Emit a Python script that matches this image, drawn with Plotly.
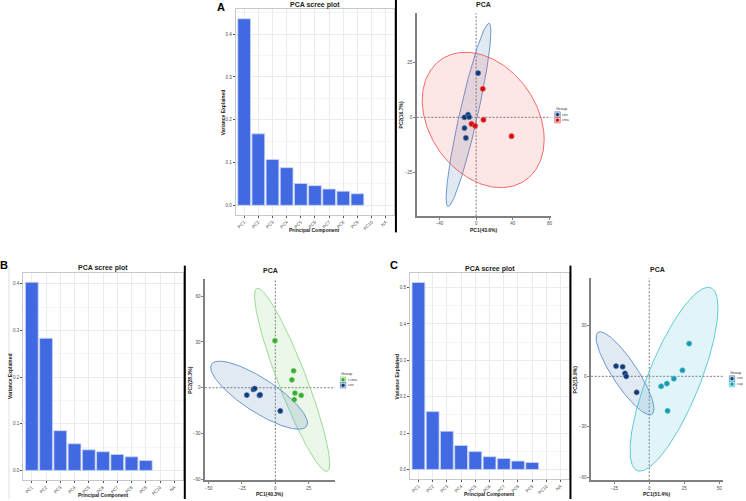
import numpy as np
import plotly.graph_objects as go

W, H = 746, 501

# ---------------- data ----------------
pcs = ["PC1", "PC2", "PC3", "PC4", "PC5", "PC6", "PC7", "PC8", "PC9", "PC10", "NA"]
scree_A = [0.436, 0.167, 0.107, 0.088, 0.051, 0.046, 0.038, 0.033, 0.027, None, None]
scree_B = [0.403, 0.283, 0.085, 0.057, 0.044, 0.040, 0.034, 0.029, 0.021, None, None]
scree_C = [0.514, 0.159, 0.105, 0.066, 0.049, 0.035, 0.030, 0.023, 0.019, None, None]

# panel A PCA scores
A_con_x = [2.2, -12.7, -8.7, -7.6, -12.7, -11.2]
A_con_y = [20.2, 0.0, 1.2, 0.1, -4.9, -9.4]
A_cma_x = [7.3, 8.0, -5.1, -1.1, 38.6]
A_cma_y = [13.0, -1.1, -3.0, -3.9, -8.6]
# panel B PCA scores
B_con_x = [-21.4, -16.4, -15.4, -11.9, -11.4, 3.7]
B_con_y = [-4.8, -1.1, -0.5, -5.0, -4.6, -15.2]
B_tcma_x = [-0.3, 13.7, 12.4, 14.7, 19.4, 14.2]
B_tcma_y = [30.8, 11.1, 5.2, -3.5, -5.0, -7.8]
# panel C PCA scores
C_con_x = [-23.7, -19.0, -17.3, -16.4, -9.0]
C_con_y = [6.1, 5.7, 1.8, 0.0, -9.5]
C_cup_x = [28.5, 23.7, 17.6, 12.6, 8.5, 13.1]
C_cup_y = [19.5, 3.6, -1.4, -4.3, -5.9, -20.5]

# ellipse parameters (centre, x half-extent, y half-extent, x at topmost point)
ell_names = ["A_con", "A_cma", "B_con", "B_tcma", "C_con", "C_cup"]
ell_cx = [-8.3, 7.7, -12.2, 12.6, -17.3, 17.7]
ell_cy = [1.1, -1.2, -4.9, 5.2, 1.8, -1.7]
ell_ax = [24.4, 66.5, 36.3, 28.2, 20.7, 31.4]
ell_by = [41.8, 30.9, 22.3, 60.0, 24.7, 54.7]
ell_xtop = [13.9, -11.6, -41.8, -13.2, -35.1, 42.0]

pc_labels_A = ["PC1(43.6%)", "PC2(16.7%)"]
pc_labels_B = ["PC1(40.3%)", "PC2(28.3%)"]
pc_labels_C = ["PC1(51.4%)", "PC2(15.9%)"]

# ---------------- style ----------------
FONT = "Arial, Liberation Sans, sans-serif"
BAR = "#4169E1"
COL = {
    "con": ("#16386E", "#5B8DC8", "rgba(70,120,180,0.16)"),
    "cma": ("#D01010", "#F05A5A", "rgba(240,80,80,0.14)"),
    "t-cma": ("#3AAA35", "#8ED88A", "rgba(120,200,100,0.15)"),
    "cup": ("#1B98AE", "#4FC3D6", "rgba(80,190,210,0.17)"),
}


def fx(px):
    return px / W


def fy(py):
    return 1 - py / H


def ann(text, x, y, size, color="#222", xanchor="center", angle=0):
    annotations.append(dict(text=text, x=fx(x), y=fy(y), xref="paper", yref="paper",
                            xanchor=xanchor, yanchor="middle", showarrow=False,
                            textangle=angle, borderpad=0,
                            font=dict(family=FONT, size=size, color=color)))


def ellipse(i, n=240):
    phi = np.arccos(np.clip((ell_xtop[i] - ell_cx[i]) / ell_ax[i], -1, 1))
    t = np.linspace(0, 2 * np.pi, n)
    return ell_cx[i] + ell_ax[i] * np.cos(t), ell_cy[i] + ell_by[i] * np.cos(t + phi)


fig = go.Figure()
shapes = []
annotations = []

tickfont = dict(family=FONT, size=4.5, color="#4D4D4D")


def scree(k, vals, xdom, ydom):
    xa, ya = ("x" if k == 1 else f"x{k}"), ("y" if k == 1 else f"y{k}")
    fig.add_trace(go.Bar(x=pcs, y=vals, width=0.9, marker_color=BAR,
                         marker_line_color="#C9D5F5", marker_line_width=0.8,
                         xaxis=xa, yaxis=ya, showlegend=False))
    vmax = max(v for v in vals if v is not None)
    sfx = "" if k == 1 else str(k)
    fig.layout["xaxis" + sfx] = dict(
        domain=[fx(xdom[0]), fx(xdom[1])], anchor=ya, type="category",
        categoryorder="array", categoryarray=pcs, range=[-0.6, 10.6],
        tickangle=-45, tickfont=tickfont, ticks="outside", ticklen=2,
        tickcolor="#555", tickwidth=0.6, showgrid=True, gridcolor="#EBEBEB",
        gridwidth=0.6, showline=True, mirror=True, linecolor="#C8C8C8",
        linewidth=1.2, zeroline=False, fixedrange=True)
    tv = [round(0.1 * j, 1) for j in range(int(vmax / 0.1) + 1)]
    fig.layout["yaxis" + sfx] = dict(
        domain=[fy(ydom[1]), fy(ydom[0])], anchor=xa,
        range=[-0.05 * vmax, 1.05 * vmax], tickvals=tv,
        ticktext=[f"{v:.1f}" for v in tv], tickfont=tickfont, ticks="outside",
        ticklen=2, tickcolor="#555", tickwidth=0.6, showgrid=True,
        gridcolor="#EBEBEB", gridwidth=0.6,
        minor=dict(dtick=0.05, tick0=0, showgrid=True, gridcolor="#F5F5F5", gridwidth=0.5),
        showline=True, mirror=True, linecolor="#C8C8C8", linewidth=1.2,
        zeroline=False, fixedrange=True)
    cx = (xdom[0] + xdom[1]) / 2
    ann("<b>PCA scree plot</b>", cx, ydom[0] - 4.5, 7)
    ann("<b>Principal Component</b>", cx, ydom[1] + 15.5, 5)
    ann("<b>Variance Explained</b>", xdom[0] - 12.5, (ydom[0] + ydom[1]) / 2, 5, angle=-90)


def pca(k, groups, xs, ys, ell_idx, labels, xr, yr, xt, yt, xdom, ydom, legpos):
    xa, ya = f"x{k}", f"y{k}"
    for g, ei in zip(groups, ell_idx):
        ex, ey = ellipse(ei)
        pc, lc, fc = COL[g]
        fig.add_trace(go.Scatter(x=ex, y=ey, mode="lines", fill="toself", fillcolor=fc,
                                 line=dict(color=lc, width=0.9), xaxis=xa, yaxis=ya,
                                 showlegend=False, hoverinfo="skip"))
    for g, gx, gy in zip(groups, xs, ys):
        pc, lc, fc = COL[g]
        fig.add_trace(go.Scatter(x=gx, y=gy, mode="markers",
                                 marker=dict(size=5.2, color=pc, line=dict(color=lc, width=0.6)),
                                 xaxis=xa, yaxis=ya, showlegend=False))
    common = dict(showline=True, linecolor="#808080", linewidth=1.6, mirror=False,
                  showgrid=False, zeroline=False, ticks="outside", ticklen=2,
                  tickcolor="#808080", tickwidth=0.8, tickfont=tickfont, fixedrange=True)
    fig.layout[f"xaxis{k}"] = dict(domain=[fx(xdom[0]), fx(xdom[1])], anchor=ya, range=xr,
                                   tickvals=xt, **common)
    fig.layout[f"yaxis{k}"] = dict(domain=[fy(ydom[1]), fy(ydom[0])], anchor=xa, range=yr,
                                   tickvals=yt, **common)
    dash = dict(color="#6E6E6E", width=0.9, dash="2px,1.6px")
    shapes.append(dict(type="line", xref=xa, yref=f"{ya} domain", x0=0, x1=0, y0=0, y1=1,
                       line=dash, layer="below"))
    shapes.append(dict(type="line", xref=f"{xa} domain", yref=ya, x0=0, x1=1, y0=0, y1=0,
                       line=dash, layer="below"))
    cx = (xdom[0] + xdom[1]) / 2
    ann("<b>PCA</b>", cx, ydom[0] - 8.8, 7)
    ann(f"<b>{labels[0]}</b>", cx, ydom[1] + 13.8, 5)
    ann(f"<b>{labels[1]}</b>", xdom[0] - 16, (ydom[0] + ydom[1]) / 2, 5, angle=-90)
    # legend (drawn by hand)
    lx, ly = legpos
    ann("Group", lx - 3, ly, 4, color="#333", xanchor="left")
    for j, g in enumerate(groups):
        pc, lc, fc = COL[g]
        cy = ly + 6.5 + 5.6 * j
        shapes.append(dict(type="rect", xref="paper", yref="paper",
                           x0=fx(lx - 2.7), x1=fx(lx + 2.7), y0=fy(cy + 2.7), y1=fy(cy - 2.7),
                           fillcolor=fc, line=dict(color=lc, width=0.8)))
        shapes.append(dict(type="circle", xref="paper", yref="paper",
                           x0=fx(lx - 1.6), x1=fx(lx + 1.6), y0=fy(cy + 1.6), y1=fy(cy - 1.6),
                           fillcolor=pc, line=dict(color=pc, width=0.3)))
        ann(g, lx + 4, cy, 3.6, color="#444", xanchor="left")


# panel A
scree(1, scree_A, (236.3, 395.3), (9.5, 215.5))
pca(2, ["con", "cma"], [A_con_x, A_cma_x], [A_con_y, A_cma_y], [0, 1], pc_labels_A,
    [-64.6, 81.1], [-45.1, 47.5], [-40, 0, 40, 80], [-25, 0, 25],
    (418, 552), (13.3, 217), (559, 108.5))
# panel B
scree(3, scree_B, (23.3, 183.3), (274, 481.7))
pca(4, ["t-cma", "con"], [B_tcma_x, B_con_x], [B_tcma_y, B_con_y], [3, 2], pc_labels_B,
    [-52.6, 44.8], [-60.7, 71.3], [-50, -25, 0, 25], [-60, -30, 0, 30, 60],
    (205.7, 336), (280, 482.3), (344, 374.7))
# panel C
scree(5, scree_C, (411, 570.7), (274.3, 480.7))
pca(6, ["con", "cup"], [C_con_x, C_cup_x], [C_con_y, C_cup_y], [4, 5], pc_labels_C,
    [-41.5, 52.7], [-61.9, 58.4], [-25, 0, 25, 50], [-60, -30, 0, 30],
    (592.7, 725), (279.3, 482.3), (734, 373.5))

# separator lines
for (x, y0, y1) in [(397, 0, 233.3), (185.3, 266.7, 501), (572, 266.7, 501)]:
    shapes.append(dict(type="line", xref="paper", yref="paper", x0=fx(x), x1=fx(x),
                       y0=fy(y1), y1=fy(y0), line=dict(color="#000", width=2)))
shapes.append(dict(type="line", xref="paper", yref="paper", x0=fx(9), x1=fx(9),
                   y0=fy(501), y1=fy(268), line=dict(color="#D8D8D8", width=0.8)))

for (t, x, y) in [("A", 221.5, 7.5), ("B", 4.5, 266.5), ("C", 395.5, 266.5)]:
    ann(f"<b>{t}</b>", x, y, 11, color="#000")

fig.update_layout(width=W, height=H, margin=dict(l=0, r=0, t=0, b=0),
                  paper_bgcolor="white", plot_bgcolor="white", showlegend=False,
                  shapes=shapes, annotations=annotations, bargap=0.1)
fig.write_html("out.html", config={"displayModeBar": False},
               post_script="document.body.style.margin='0';document.body.style.overflow='hidden';")
